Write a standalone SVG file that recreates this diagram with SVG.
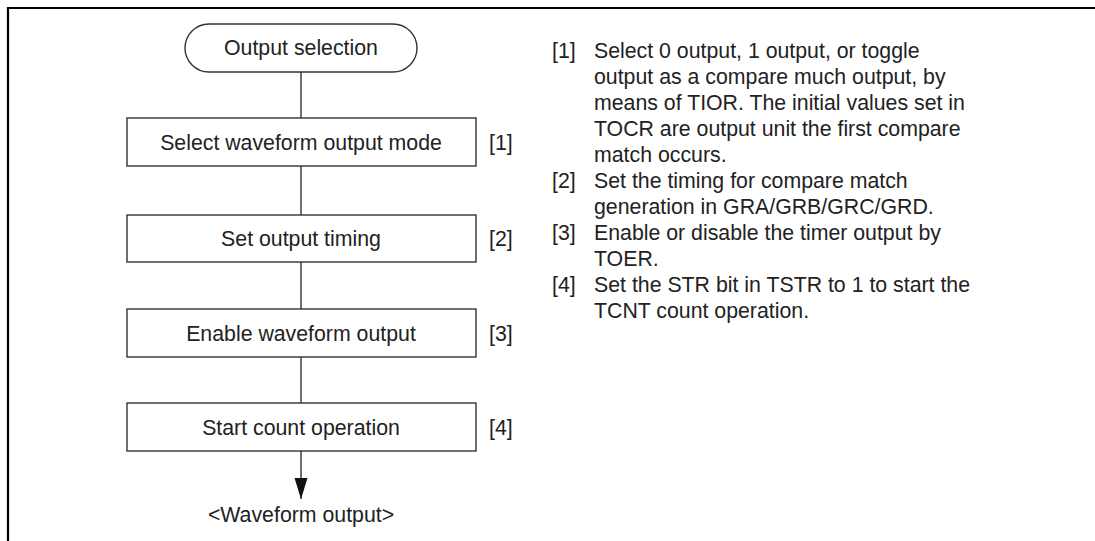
<svg xmlns="http://www.w3.org/2000/svg" width="1095" height="541" viewBox="0 0 1095 541">
<defs>
<style>
text{font-family:"Liberation Sans",Arial,Helvetica,sans-serif;font-size:21.3px;fill:#222;}
.c{text-anchor:middle;}
.shape{fill:#fff;stroke:#333;stroke-width:1.4;}
.conn{stroke:#222;stroke-width:1.3;fill:none;}
</style>
<marker id="arr" markerUnits="userSpaceOnUse" markerWidth="22" markerHeight="14" refX="21" refY="6.5" orient="auto">
<path d="M0,0 L21,6.5 L0,13 Z" fill="#111"/>
</marker>
</defs>
<rect width="1095" height="541" fill="#fff"/>
<path d="M8,541 L8,8 L1095,8" fill="none" stroke="#000" stroke-width="2.2"/>
<g id="connectors">
<line class="conn" x1="301" y1="72" x2="301" y2="118"/>
<line class="conn" x1="301" y1="166" x2="301" y2="215"/>
<line class="conn" x1="301" y1="262" x2="301" y2="309"/>
<line class="conn" x1="301" y1="357" x2="301" y2="403"/>
<line class="conn" x1="301" y1="451" x2="301" y2="499" marker-end="url(#arr)"/>
</g>
<g id="start">
<rect class="shape" x="185" y="24" width="232" height="48" rx="24" ry="24"/>
<text class="c" x="301" y="55">Output selection</text>
</g>
<g id="step1">
<rect class="shape" x="127" y="118" width="349" height="48"/>
<text class="c" x="301" y="149.5">Select waveform output mode</text>
<text x="489" y="149.5">[1]</text>
</g>
<g id="step2">
<rect class="shape" x="127" y="215" width="349" height="47"/>
<text class="c" x="301" y="246">Set output timing</text>
<text x="489" y="246">[2]</text>
</g>
<g id="step3">
<rect class="shape" x="127" y="309" width="349" height="48"/>
<text class="c" x="301" y="340.5">Enable waveform output</text>
<text x="489" y="340.5">[3]</text>
</g>
<g id="step4">
<rect class="shape" x="127" y="403" width="349" height="48"/>
<text class="c" x="301" y="434.5">Start count operation</text>
<text x="489" y="434.5">[4]</text>
</g>
<g id="end">
<text class="c" x="301" y="522">&lt;Waveform output&gt;</text>
</g>
<g id="notes">
<text x="552" y="58">[1]</text>
<text x="594" y="58">Select 0 output, 1 output, or toggle</text>
<text x="594" y="84">output as a compare much output, by</text>
<text x="594" y="110">means of TIOR. The initial values set in</text>
<text x="594" y="136">TOCR are output unit the first compare</text>
<text x="594" y="162">match occurs.</text>
<text x="552" y="188">[2]</text>
<text x="594" y="188">Set the timing for compare match</text>
<text x="594" y="214">generation in GRA/GRB/GRC/GRD.</text>
<text x="552" y="240">[3]</text>
<text x="594" y="240">Enable or disable the timer output by</text>
<text x="594" y="266">TOER.</text>
<text x="552" y="292">[4]</text>
<text x="594" y="292">Set the STR bit in TSTR to 1 to start the</text>
<text x="594" y="318">TCNT count operation.</text>
</g>
</svg>
